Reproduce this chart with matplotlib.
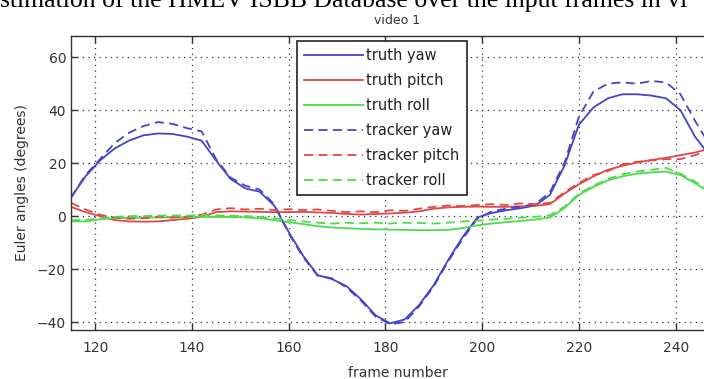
import matplotlib
matplotlib.use("Agg")
import matplotlib.pyplot as plt

frames = [115, 118, 121, 124, 127, 130, 133, 136, 139, 142, 145, 148, 151, 154, 157,
          160, 163, 166, 169, 172, 175, 178, 181, 184, 187, 190, 193, 196, 199, 202,
          205, 208, 211, 214, 217, 220, 223, 226, 229, 232, 235, 238, 241, 244, 247]

truth_yaw = [7, 15, 21, 25.5, 28.5, 30.5, 31.2, 31, 30, 28.5, 21, 14, 10.5, 9.2, 4,
             -6, -15, -22.3, -23.8, -26.5, -31.5, -37.5, -40.5, -39, -33.5, -26, -16.5, -7.8, -0.5, 1.2,
             2.2, 3, 4, 8, 19, 34.5, 41, 44.5, 46, 46, 45.5, 44.5, 40, 30, 23]
truth_pitch = [3.5, 1.5, 0, -1.5, -2, -2.1, -2, -1.5, -1, -0.3, 1.5, 1.8, 1.7, 1.6, 1.5,
               1.5, 1.6, 1.4, 1.2, 0.8, 0.6, 0.8, 1.0, 1.3, 1.8, 2.8, 3.3, 3.5, 3.6, 3.5,
               3.5, 3.7, 3.9, 4.5, 8.5, 12, 15, 17.5, 19, 20.2, 21.2, 22, 23, 24, 25.5]
truth_roll = [-2, -2, -1.2, -0.8, -0.7, -0.6, -0.5, -0.5, -0.4, -0.3, -0.3, -0.3, -0.5, -0.8, -1.5,
              -2.3, -3, -3.8, -4.3, -4.6, -4.8, -5, -5.1, -5.2, -5.3, -5.3, -5.2, -4.5, -3.5, -2.8,
              -2.3, -1.8, -1.3, -0.5, 3, 8, 11, 13.5, 15, 16, 16.5, 16.8, 15.5, 12.5, 9]
tracker_yaw = [7, 15.5, 21.5, 27.5, 31.5, 34, 35.5, 34.8, 33.2, 32, 21.5, 14.5, 11.5, 10, 4.5,
               -6.5, -15.5, -22.5, -23.5, -27, -32, -38, -40.8, -40, -34, -26.5, -17, -8.5, -1, 1.8,
               2.8, 3.6, 4.5, 9, 20, 37.5, 47, 50, 50.5, 50, 51, 50.5, 46, 36, 27]
tracker_pitch = [5, 2.5, 0.5, -0.5, -1, -0.8, -0.3, -0.5, -0.2, 0.5, 2.5, 3, 2.5, 2.8, 2.3,
                 2.6, 2.3, 2.5, 2, 1.5, 1.8, 1.5, 2.2, 2, 2.8, 3.5, 4, 3.8, 4.2, 4.5,
                 4.2, 4.8, 4.5, 5, 9, 12.5, 15.5, 17, 19.5, 20.5, 21, 21.5, 21.5, 23, 25]
tracker_roll = [-1.5, -1.5, -0.8, -0.3, 0, 0, 0.2, 0.3, 0.2, 0.3, 0.3, 0.2, 0, -0.3, -0.8,
                -1.5, -2, -2.5, -2.8, -2.5, -2.7, -2.5, -2.8, -2.5, -2.6, -2.8, -2.5, -2, -1.8, -1.3,
                -1, -0.6, -0.3, 0.3, 3.5, 8.5, 11.5, 14, 15.8, 16.8, 17.5, 18.2, 16, 13, 10]

series_labels = ["truth yaw", "truth pitch", "truth roll",
                 "tracker yaw", "tracker pitch", "tracker roll"]
x_ticks = [120, 140, 160, 180, 200, 220, 240]
y_ticks = [-40, -20, 0, 20, 40, 60]

caption = "stimation of the HMEV ISBB Database over the input frames in vi"

BLUE = "#4444c8"
RED = "#e04848"
GREEN = "#4cdc4c"

fig = plt.figure(figsize=(7.04, 3.79), dpi=100)
ax = fig.add_axes([71 / 704, 49 / 379, 653 / 704, 294 / 379])

lw = 1.3
ax.plot(frames, truth_yaw, color=BLUE, lw=lw, label=series_labels[0])
ax.plot(frames, truth_pitch, color=RED, lw=lw, label=series_labels[1])
ax.plot(frames, truth_roll, color=GREEN, lw=lw, label=series_labels[2])
ax.plot(frames, tracker_yaw, color=BLUE, lw=lw, ls=(0, (5, 3)), label=series_labels[3])
ax.plot(frames, tracker_pitch, color=RED, lw=lw, ls=(0, (5, 3)), label=series_labels[4])
ax.plot(frames, tracker_roll, color=GREEN, lw=lw, ls=(0, (5, 3)), label=series_labels[5])

ax.set_xlim(115, 250)
ax.set_ylim(-43, 68)
ax.set_xticks(x_ticks)
ax.set_yticks(y_ticks)
ax.grid(True, color="#333333", linestyle=(0, (1, 3.5)), linewidth=0.9)
ax.tick_params(direction="in", length=5, width=1, colors="#333333",
               labelsize=10, labelcolor="#333333", top=True, right=True)
ax.tick_params(axis="x", pad=8)
for s in ax.spines.values():
    s.set_color("#333333")
    s.set_linewidth(1.0)

ax.set_xlabel("frame number", fontsize=10, color="#333333", labelpad=8)
ax.set_ylabel("Euler angles (degrees)", fontsize=10, color="#333333", labelpad=6)
ax.set_title("video 1", fontsize=9, color="#333333", pad=9)

leg = ax.legend(loc="upper left", bbox_to_anchor=(297 / 704, 1 - 41 / 379),
                bbox_transform=fig.transFigure, fontsize=10.5, frameon=True,
                fancybox=False, framealpha=1, edgecolor="#222222",
                handlelength=4.0, handletextpad=0.25, labelspacing=0.68,
                borderpad=0.5, borderaxespad=0)
leg.get_frame().set_linewidth(1.2)
for t in leg.get_texts():
    t.set_color("#222222")

fig.text(0.0, 1 - 7 / 379, caption, ha="left", va="baseline",
         fontfamily="Liberation Serif", fontsize=18.5, color="black")

fig.savefig("out.png", dpi=100)
